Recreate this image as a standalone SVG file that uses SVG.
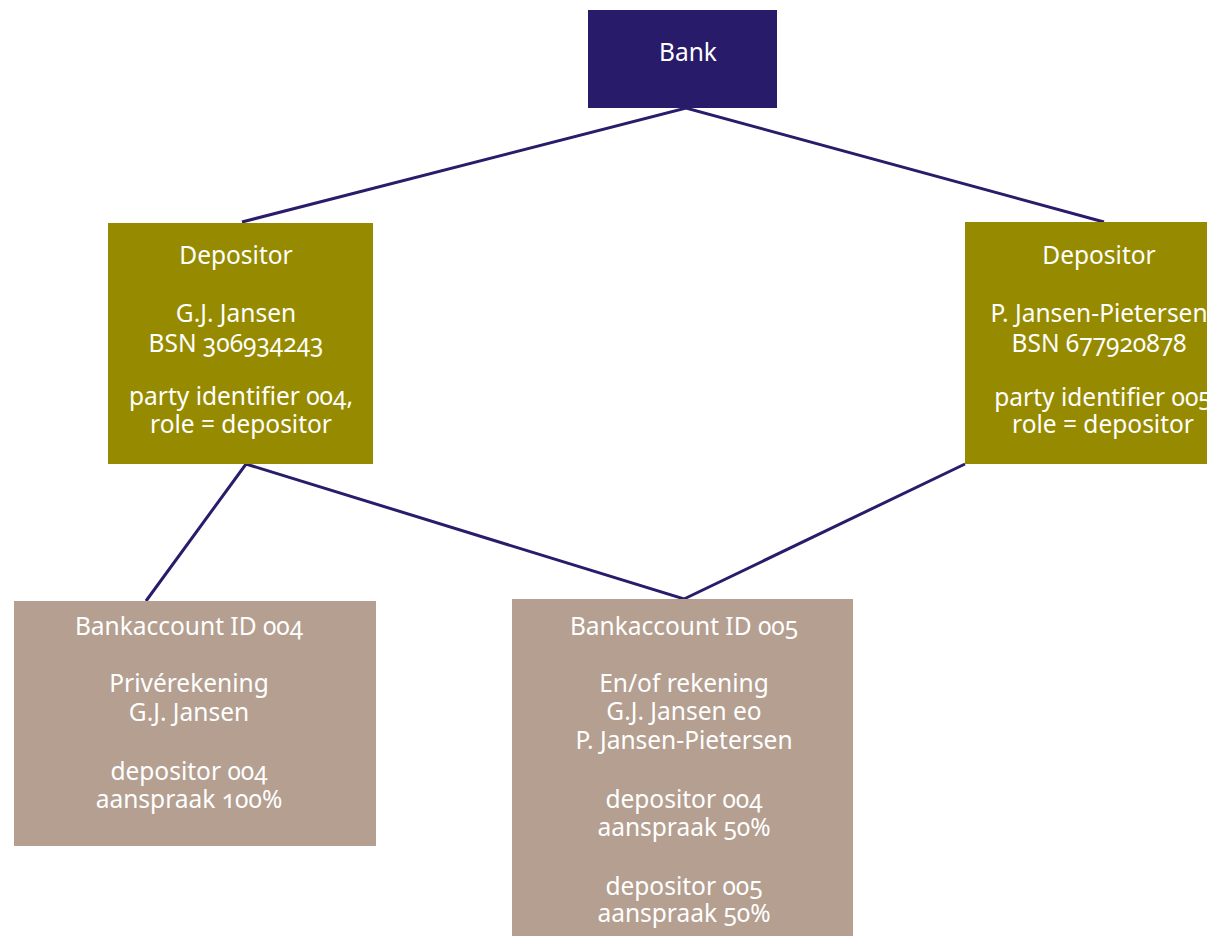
<svg xmlns="http://www.w3.org/2000/svg" width="1207" height="936" viewBox="0 0 1207 936">
<style>
text{font-family:"Noto Sans","Open Sans","Liberation Sans",sans-serif;font-size:24.5px;fill:#ffffff;text-anchor:middle;font-variant-numeric:oldstyle-nums;font-feature-settings:"onum" 1}
.bank{fill:#281b69}
.dep{fill:#968b00}
.acc{fill:#b49f91}
.link{stroke:#2a1c6b;stroke-width:3;fill:none;stroke-linejoin:miter}
</style>
<rect width="1207" height="936" fill="#ffffff"/>
<g id="connectors">
<polyline class="link" points="242,222 686,108 1104,222"/>
<polyline class="link" points="146,601 246,464 684,599 965,464"/>
</g>
<g id="bank">
<rect class="bank" x="588" y="10" width="189" height="98"/>
<text x="688" y="61">Bank</text>
</g>
<g id="depositor-004">
<rect class="dep" x="108" y="223" width="265" height="241"/>
<text><tspan x="236" y="264">Depositor</tspan><tspan x="236" y="321.5">G.J. Jansen</tspan><tspan x="236" y="351.5">BSN 306934243</tspan><tspan x="241" y="405">party identifier 004,</tspan><tspan x="241" y="432.5">role = depositor</tspan></text>
</g>
<g id="depositor-005">
<rect class="dep" x="965" y="222" width="270" height="242"/>
<text><tspan x="1099" y="264">Depositor</tspan><tspan x="1099" y="321.5">P. Jansen-Pietersen</tspan><tspan x="1099" y="351.5">BSN 677920878</tspan><tspan x="1103" y="405.5">party identifier 005</tspan><tspan x="1103" y="433">role = depositor</tspan></text>
</g>
<g id="bankaccount-004">
<rect class="acc" x="14" y="601" width="362" height="245"/>
<text><tspan x="189" y="635">Bankaccount ID 004</tspan><tspan x="189" y="692">Privérekening</tspan><tspan x="189" y="720.5">G.J. Jansen</tspan><tspan x="189" y="779.5">depositor 004</tspan><tspan x="189" y="807.5">aanspraak 100%</tspan></text>
</g>
<g id="bankaccount-005">
<rect class="acc" x="512" y="599" width="341" height="337"/>
<text><tspan x="684" y="635">Bankaccount ID 005</tspan><tspan x="684" y="691.5">En/of rekening</tspan><tspan x="684" y="720">G.J. Jansen eo</tspan><tspan x="684" y="749">P. Jansen-Pietersen</tspan><tspan x="684" y="808">depositor 004</tspan><tspan x="684" y="836">aanspraak 50%</tspan><tspan x="684" y="894.5">depositor 005</tspan><tspan x="684" y="922">aanspraak 50%</tspan></text>
</g>
</svg>
